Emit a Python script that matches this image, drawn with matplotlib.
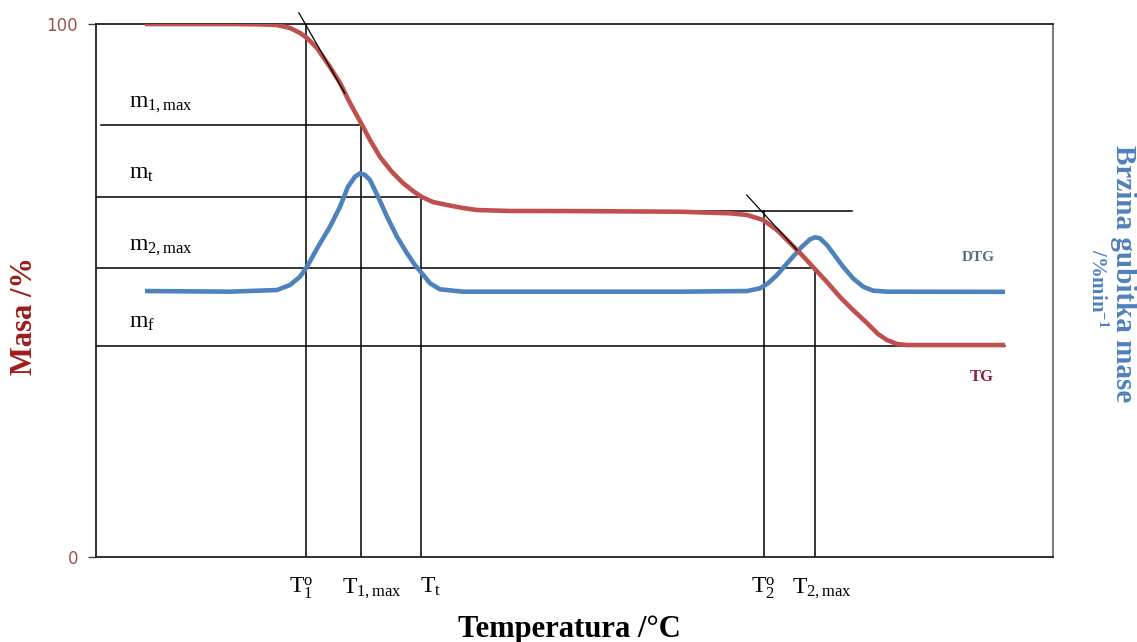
import numpy as np
import matplotlib
matplotlib.use('Agg')
import matplotlib.pyplot as plt

plt.rc('font', **{'family': 'serif', 'serif': ['Liberation Serif', 'DejaVu Serif'], 'size': 12})
plt.rc('mathtext', fontset='custom', rm='Liberation Serif', it='Liberation Serif:italic',
       bf='Liberation Serif:bold')

# TG curve (mass %), x in arbitrary temperature units 0-100
tg_t = [5.12, 14.0, 17.14, 18.91, 20.27, 21.32, 22.05, 23.09, 24.45, 25.5, 26.54, 27.8,
        28.63, 29.68, 30.93, 32.08, 33.12, 34.06, 35.21, 36.68, 38.35, 39.81, 43.26, 50.0,
        61.02, 66.25, 68.03, 69.7, 71.16, 72.52, 73.77, 74.92, 76.38, 77.74, 79.1, 80.56,
        81.71, 82.65, 83.7, 84.74, 88.19, 94.98]
tg_m = [100.0, 100.0, 99.94, 99.81, 99.25, 98.31, 97.37, 95.5, 91.93, 88.93, 85.18, 81.05,
        78.24, 75.05, 72.23, 70.17, 68.67, 67.54, 66.6, 66.04, 65.48, 65.1, 64.92, 64.9,
        64.78, 64.48, 64.17, 63.23, 61.35, 58.91, 56.66, 54.41, 51.59, 48.78, 46.34, 43.9,
        41.84, 40.71, 39.96, 39.77, 39.77, 39.77]

# DTG curve (rate of mass loss, drawn on the same scale)
dtg_t = [5.12, 14.0, 18.91, 20.27, 21.32, 22.05, 23.2, 24.45, 25.5, 26.33, 27.06, 27.59,
         28.11, 28.63, 29.47, 30.41, 31.45, 32.5, 33.33, 34.06, 34.9, 35.95, 38.35, 61.02,
         68.03, 69.38, 70.22, 71.16, 72.52, 73.77, 74.61, 75.13, 75.65, 76.38, 78.06, 79.1,
         80.15, 81.19, 82.65, 94.98]
dtg_v = [49.9, 49.78, 50.09, 51.03, 52.59, 54.47, 58.2, 61.97, 65.72, 69.47, 71.35, 71.98,
         71.67, 70.73, 67.6, 63.85, 60.09, 56.98, 54.78, 53.23, 51.35, 50.22, 49.78, 49.78,
         49.9, 50.41, 51.35, 52.91, 55.72, 58.22, 59.6, 59.98, 59.79, 58.54, 54.47, 52.29,
         50.72, 49.97, 49.78, 49.75]

# characteristic temperatures and masses
t_names = ['$\\mathrm{T_1^{o}}$', '$\\mathrm{T_{1,max}}$', '$\\mathrm{T_t}$',
           '$\\mathrm{T_2^{o}}$', '$\\mathrm{T_{2,max}}$']
t_vals = [21.94, 27.69, 33.96, 69.8, 75.13]
t_tops = [100.0, 81.05, 67.5, 64.9, 54.2]

m_names = ['$\\mathrm{m_{1,max}}$', '$\\mathrm{m_t}$', '$\\mathrm{m_{2,max}}$', '$\\mathrm{m_f}$']
m_vals = [81.05, 67.5, 54.2, 39.6]
m_ends = [27.69, 33.96, 75.13, 95.0]

onset2_level = 64.9
tang1 = ([21.2, 26.0], [102.1, 87.0])
tang2 = ([68.0, 73.25], [67.9, 57.6])

red = '#c0504d'
blue = '#4f81bd'

fig = plt.figure(figsize=(11.37, 6.42), dpi=100)
ax = fig.add_axes([96 / 1137, 85 / 642, 957 / 1137, 533 / 642])
ax.set_xlim(0, 100)
ax.set_ylim(0, 100)

# helper lines
for t, top in zip(t_vals, t_tops):
    ax.plot([t, t], [0, top], color='k', lw=1.1, zorder=2)
for i, (m, end) in enumerate(zip(m_vals, m_ends)):
    ax.plot([0.5 if i == 0 else 0, end], [m, m], color='k', lw=1.1, zorder=2)
ax.plot([63.0, 79.0], [onset2_level, onset2_level], color='k', lw=1.1, zorder=2)
ax.plot(*tang1, color='k', lw=0.9, zorder=4, clip_on=False)
ax.plot(*tang2, color='k', lw=0.9, zorder=4, clip_on=False)

ax.plot(dtg_t, dtg_v, color=blue, lw=3.3, solid_capstyle='butt', solid_joinstyle='round', zorder=3)
ax.plot(tg_t, tg_m, color=red, lw=3.3, solid_capstyle='butt', solid_joinstyle='round', zorder=3)

for name, m in zip(m_names, m_vals):
    ax.text(3.45, m + 3.4, name, fontsize=17, va='baseline', ha='left')

# labels under the lines, nudged like in the original drawing
label_dx = [-0.5, 1.1, 1.0, -0.1, 0.7]
for name, t, dx in zip(t_names, t_vals, label_dx):
    ax.text(t + dx, -6.75, name, fontsize=17, va='baseline', ha='center', clip_on=False)

ax.text(90.5, 55.5, 'DTG', fontsize=11, fontweight='bold', color='#5b6b82')
ax.text(91.3, 33.0, 'TG', fontsize=12, fontweight='bold', color='#8b2445')

# axes frame
ax.set_xticks([])
ax.set_yticks([0, 100])
ax.set_yticklabels(['0', '100'], family='DejaVu Sans', fontsize=12, color='#a05252')
ax.tick_params(axis='y', length=6, width=1, color='#404040', pad=7)
for s in ['left', 'top', 'bottom']:
    ax.spines[s].set_color('#202020')
    ax.spines[s].set_linewidth(1.3)
ax.spines['right'].set_color('#707070')
ax.spines['right'].set_linewidth(1.3)

fig.text(458 / 1137, 1 - 637 / 642, 'Temperatura /\u00b0C', fontsize=22, fontweight='bold',
         ha='left', va='baseline')
fig.text(25 / 1137, 1 - 316 / 642, 'Masa /%', fontsize=22, fontweight='bold', color='#a01c1c',
         rotation=90, ha='center', va='center')
fig.text(1124 / 1137, 1 - 274 / 642, 'Brzina gubitka mase', fontsize=21, fontweight='bold',
         color=blue, rotation=-90, ha='center', va='center')
fig.text(1097 / 1137, 1 - 288 / 642, '/%min$^{\\mathbf{-1}}$', fontsize=15, fontweight='bold',
         color=blue, rotation=-90, ha='center', va='center')

fig.savefig('out.png', dpi=100)
